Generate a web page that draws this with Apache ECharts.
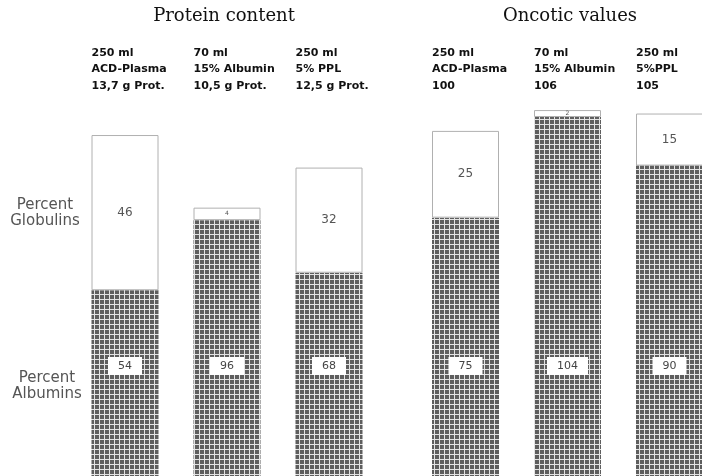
<!DOCTYPE html>
<html>
<head>
<meta charset="utf-8">
<script src="https://cdn.jsdelivr.net/npm/echarts@6/dist/echarts.min.js"></script>
<style>html,body{margin:0;padding:0;background:#fff}#c{width:702px;height:476px}</style>
</head>
<body>
<div id="c"></div>
<script>
// ---- data ----
const proteinHeaders = ['250 ml\nACD-Plasma\n13,7 g Prot.', '70 ml\n15% Albumin\n10,5 g Prot.', '250 ml\n5% PPL\n12,5 g Prot.'];
const oncoticHeaders = ['250 ml\nACD-Plasma\n100', '70 ml\n15% Albumin\n106', '250 ml\n5%PPL\n105'];
// protein bar segment heights (g) and their percent labels
const proteinAlbumin = [7.5, 10.3, 8.2];
const proteinGlobulin = [6.2, 0.5, 4.2];
const proteinAlbuminPct = [54, 96, 68];
const proteinGlobulinPct = [46, 4, 32];
// oncotic values
const oncoticAlbumin = [75, 104, 90];
const oncoticGlobulin = [25, 2, 15];

// ---- hatch pattern ----
function makePattern() {
  const c = document.createElement('canvas');
  c.width = 5; c.height = 5;
  const g = c.getContext('2d');
  g.fillStyle = '#5e5e5e';
  g.fillRect(0, 0, 5, 5);
  g.fillStyle = '#e4e4e4';
  g.fillRect(4, 0, 1, 5);
  g.fillRect(0, 4, 5, 1);
  return c;
}
const hatch = { image: makePattern(), repeat: 'repeat' };

const headerLabel = {
  show: true,
  interval: 0,
  align: 'center',
  margin: 6,
  formatter: v => v.split('\n').map(l => '{a|' + l + '}').join('\n'),
  rich: { a: { width: 67, align: 'left', fontFamily: 'DejaVu Sans', fontWeight: 'bold', fontSize: 11, lineHeight: 16.5, color: '#111' } }
};

function xAx(gi, data) {
  return {
    type: 'category', gridIndex: gi, position: 'top', data: data,
    axisLine: { show: false }, axisTick: { show: false }, splitLine: { show: false },
    axisLabel: headerLabel
  };
}
function yAx(gi, max) {
  return { type: 'value', gridIndex: gi, min: 0, max: max, show: false, splitLine: { show: false } };
}

const albLabel = (labels) => ({
  show: true, position: 'insideBottom', distance: 103,
  formatter: p => String(labels[p.dataIndex]),
  backgroundColor: '#fff', padding: [3, 10, 3, 10], lineHeight: 12,
  fontFamily: 'DejaVu Sans', fontSize: 11, color: '#444'
});
const globLabel = (labels) => ({
  show: true, position: 'inside',
  formatter: p => String(labels[p.dataIndex]),
  fontFamily: 'DejaVu Sans', color: '#555'
});

function albSeries(xi, data, labels) {
  return {
    type: 'bar', xAxisIndex: xi, yAxisIndex: xi, stack: 's' + xi, barWidth: 67,
    data: data, itemStyle: { color: hatch }, label: albLabel(labels), silent: true
  };
}
function globSeries(xi, data, labels) {
  return {
    type: 'bar', xAxisIndex: xi, yAxisIndex: xi, stack: 's' + xi, barWidth: 67,
    data: data.map((v, i) => ({
      value: v,
      label: { fontSize: labels[i] < 10 ? 6 : 12 }
    })),
    itemStyle: { color: '#fff', borderColor: '#b0b0b0', borderWidth: 1 },
    label: globLabel(labels), silent: true
  };
}

const chart = echarts.init(document.getElementById('c'), null, { renderer: 'canvas' });
const titleStyle = { fontFamily: 'DejaVu Serif', fontWeight: 'normal', fontSize: 18, color: '#111' };
const sideStyle = { fontFamily: 'DejaVu Sans', fontWeight: 'normal', fontSize: 15, lineHeight: 16, color: '#555', align: 'center' };
chart.setOption({
  animation: false,
  backgroundColor: '#fff',
  title: [
    { text: 'Protein content', left: 224, top: 7, padding: 0, textAlign: 'center', textStyle: titleStyle },
    { text: 'Oncotic values', left: 570, top: 7, padding: 0, textAlign: 'center', textStyle: titleStyle },
    { text: 'Percent\nGlobulins', left: 45, top: 197, padding: 0, textAlign: 'center', textStyle: sideStyle },
    { text: 'Percent\nAlbumins', left: 47, top: 370, padding: 0, textAlign: 'center', textStyle: sideStyle }
  ],
  grid: [
    { left: 74, width: 306, top: 100, height: 378, outerBoundsMode: 'none', containLabel: false },
    { left: 414.5, width: 306, top: 100, height: 378, outerBoundsMode: 'none', containLabel: false }
  ],
  xAxis: [xAx(0, proteinHeaders), xAx(1, oncoticHeaders)],
  yAxis: [yAx(0, 15.1), yAx(1, 108.9)],
  series: [
    albSeries(0, proteinAlbumin, proteinAlbuminPct),
    globSeries(0, proteinGlobulin, proteinGlobulinPct),
    albSeries(1, oncoticAlbumin, oncoticAlbumin),
    globSeries(1, oncoticGlobulin, oncoticGlobulin)
  ]
});
</script>
</body>
</html>
